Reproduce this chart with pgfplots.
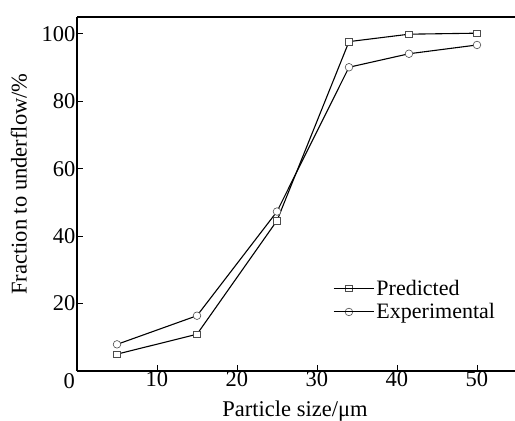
\documentclass[border=0pt]{standalone}
\usepackage{fontspec}
\setmainfont{Liberation Serif}
\usepackage{pgfplots}
\pgfplotsset{compat=1.18}
\begin{document}
\begin{tikzpicture}
\useasboundingbox (0,0) rectangle (515pt,421pt);
\begin{axis}[
  at={(77pt,50pt)}, anchor=south west,
  scale only axis, width=440pt, height=354pt,
  xmin=0, xmax=55, ymin=0, ymax=105,
  axis x line=box, axis y line=left,
  xtick={10,20,30,40,50}, ytick={20,40,60,80,100},
  xtick pos=bottom, ytick pos=left,
  tick align=inside, major tick length=6pt,
  tick style={black, line width=0.9pt},
  axis line style={line width=1.1pt, -},
  font=\fontsize{22.5}{25}\selectfont,
  /pgf/number format/assume math mode=true,
  xticklabel style={yshift=3pt},
  yticklabel style={xshift=2pt},
  xlabel={Particle size/μm},
  ylabel={Fraction to underflow/\%},
  xlabel style={yshift=-7pt, xshift=-2pt},
  ylabel style={yshift=8pt, xshift=10pt},
  clip=false,
  legend style={at={(axis cs:31.9,28)}, anchor=north west, draw=none, fill=none,
    font=\fontsize{22}{24}\selectfont, row sep=3pt, inner sep=1pt},
  legend cell align=left,
  legend image code/.code={\draw[mark repeat=2,mark phase=2] plot coordinates {(0pt,0pt)(15pt,0pt)(30pt,0pt)}; \path (0pt,0pt) -- (40pt,0pt);},
]
\addplot[black, line width=1.1pt, mark=square*, mark size=3.3pt, mark options={fill=white, draw=black!70, line width=0.6pt}]
  coordinates {(5,5.0)(15,10.9)(25,44.6)(34,97.7)(41.5,99.9)(50,100.2)};
\addlegendentry{Predicted}
\addplot[black, line width=1.1pt, mark=*, mark size=3.8pt, mark options={fill=white, draw=black!70, line width=0.6pt}]
  coordinates {(5,7.9)(15,16.4)(25,47.3)(34,90.1)(41.5,94.1)(50,96.7)};
\addlegendentry{Experimental}
\node[anchor=north east, inner sep=0pt, font=\fontsize{22.5}{25}\selectfont] at (rel axis cs:0,0) [xshift=-2pt, yshift=-2pt] {0};
\end{axis}
\end{tikzpicture}
\end{document}
